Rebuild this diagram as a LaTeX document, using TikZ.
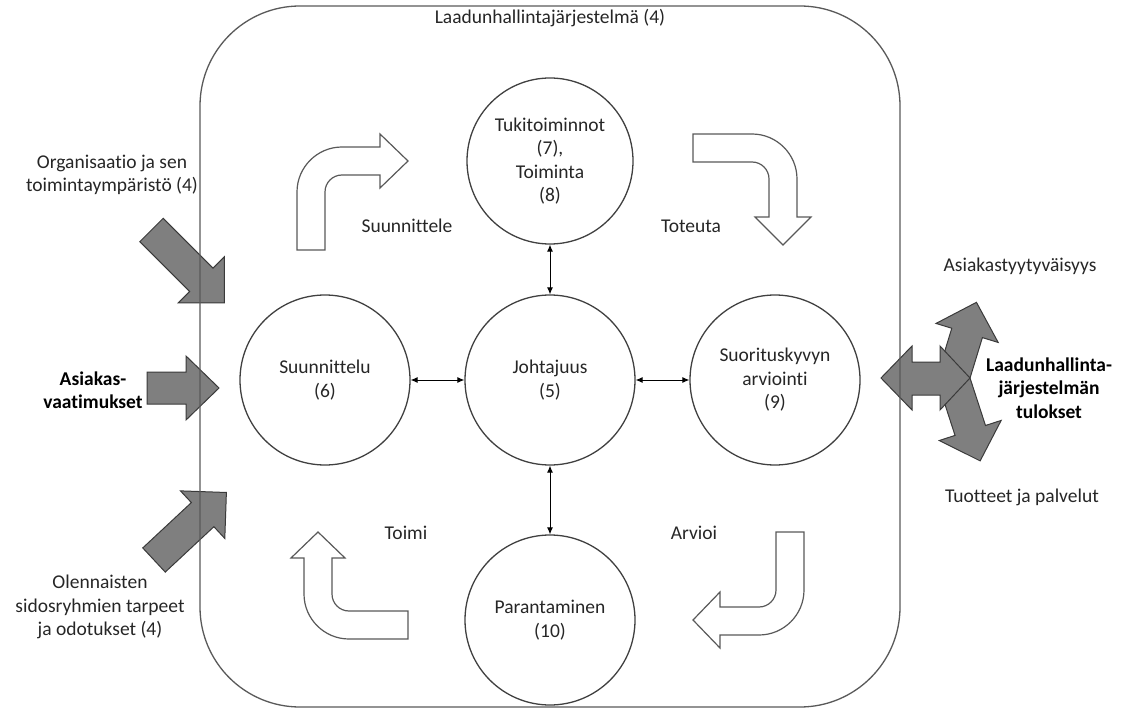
\documentclass[tikz,border=0pt]{standalone}
\usepackage{fontspec}
\setmainfont[Ligatures=NoCommon]{Carlito}
\usetikzlibrary{arrows.meta}
\definecolor{circline}{HTML}{404040}
\definecolor{boxline}{HTML}{595959}
\definecolor{agrey}{HTML}{7F7F7F}
\definecolor{aedge}{HTML}{3A3A3A}
\definecolor{wedge}{HTML}{595959}
\newcommand{\lblfont}{\fontsize{19.5}{23.5}\selectfont}
% #1 shift, #2 angle, #3 length, #4 shaft half width, #5 head half width, #6 head length
\newcommand{\greyarrow}[6]{%
  \draw[garrow, shift={#1}, rotate=#2]
    (0,-#4) -- (#3-#6,-#4) -- (#3-#6,-#5) -- (#3,0) -- (#3-#6,#5) -- (#3-#6,#4) -- (0,#4) -- cycle;}
\begin{document}
\begin{tikzpicture}[x=1pt,y=-1pt,
  circ/.style={circle, draw=circline, line width=1.3pt, minimum size=170pt, inner sep=0pt, align=center, font=\lblfont, text=black!85},
  txt/.style={align=center, inner sep=0pt, font=\lblfont, text=black!85},
  btxt/.style={align=center, inner sep=0pt, font=\lblfont\bfseries, text=black},
  garrow/.style={fill=agrey, draw=aedge, line width=1pt, line join=miter},
  warrow/.style={fill=white, draw=wedge, line width=1.2pt, line join=miter},
  link/.style={{Latex[length=7pt,width=6pt]}-{Latex[length=7pt,width=6pt]}, line width=0.9pt, black}]
\useasboundingbox (0,0) rectangle (1130,711);

% grey input arrows (left)
\greyarrow{(151.5,230)}{-45}{103}{16.5}{32.5}{32.5}
\greyarrow{(147,388)}{0}{72}{16}{32}{33}
\greyarrow{(154,560)}{43}{99}{16.5}{32.5}{32.5}

% grey output arrows (right)
\greyarrow{(954.8,373.1)}{73}{74}{16}{32.5}{32}
\greyarrow{(954.8,382.9)}{-72}{82}{16}{32.5}{32}
\draw[garrow] (881,378) -- (912,346) -- (912,362) -- (940,362) -- (940,346) -- (970,378)
  -- (940,410) -- (940,395) -- (912,395) -- (912,410) -- cycle;

% system boundary
\draw[boxline, line width=1.3pt, rounded corners=100pt] (200,6) rectangle (900,707);

% circles
\node[circ, minimum size=166pt] (tuki) at (550,161) {Tukitoiminnot\\(7),\\Toiminta\\(8)};
\node[circ] (joht) at (550,380) {Johtajuus\\(5)};
\node[circ] (suun) at (325,380) {Suunnittelu\\(6)};
\node[circ] (suor) at (775,380) {Suorituskyvyn\\arviointi\\(9)};
\node[circ] (para) at (550,620) {Parantaminen\\(10)};

\draw[link] (tuki.south) -- (joht.north);
\draw[link] (joht.south) -- (para.north);
\draw[link] (suun.east) -- (joht.west);
\draw[link] (joht.east) -- (suor.west);

% white bent arrows
\draw[warrow] (297,250) -- (297,192) .. controls (297,167.2) and (317.2,147) .. (342,147)
  -- (380,147) -- (380,134) -- (408,161) -- (380,188) -- (380,175) -- (342,175)
  .. controls (332.6,175) and (325,182.6) .. (325,192) -- (325,250) -- cycle;
\draw[warrow] (693,134) -- (752,134) .. controls (776.8,134) and (797,154.2) .. (797,179)
  -- (797,217) -- (811,217) -- (783,245) -- (755,217) -- (769,217) -- (769,179)
  .. controls (769,169.6) and (761.4,162) .. (752,162) -- (693,162) -- cycle;
\draw[warrow] (318,532) -- (345,558) -- (332,558) -- (332,594)
  .. controls (332,603.4) and (339.6,611) .. (349,611) -- (408,611) -- (408,639) -- (349,639)
  .. controls (324.2,639) and (304,618.8) .. (304,594) -- (304,558) -- (291,558) -- cycle;
\draw[warrow] (776,532) -- (804,532) -- (804,590) .. controls (804,614.8) and (783.8,635) .. (759,635)
  -- (720,635) -- (720,648) -- (693,620) -- (720,592) -- (720,607) -- (759,607)
  .. controls (768.4,607) and (776,599.4) .. (776,590) -- cycle;

% labels
\node[txt] (title) at (550,18) {Laadunhallintajärjestelmä (4)};
\node[txt] (lsuun) at (407,226) {Suunnittele};
\node[txt] (ltot) at (691,226) {Toteuta};
\node[txt] (ltoimi) at (406,533) {Toimi};
\node[txt] (larv) at (694,533) {Arvioi};
\node[txt] (org) at (112,175) {Organisaatio ja sen\\toimintaympäristö (4)};
\node[btxt] (asi) at (93,390) {Asiakas-\\vaatimukset};
\node[txt] (olen) at (100,607) {Olennaisten\\sidosryhmien tarpeet\\ja odotukset (4)};
\node[txt] (tyyt) at (1020,266) {Asiakastyytyväisyys};
\node[btxt] (tul) at (1049,388) {Laadunhallinta-\\järjestelmän\\tulokset};
\node[txt] (tuot) at (1022,497) {Tuotteet ja palvelut};
\end{tikzpicture}
\end{document}
